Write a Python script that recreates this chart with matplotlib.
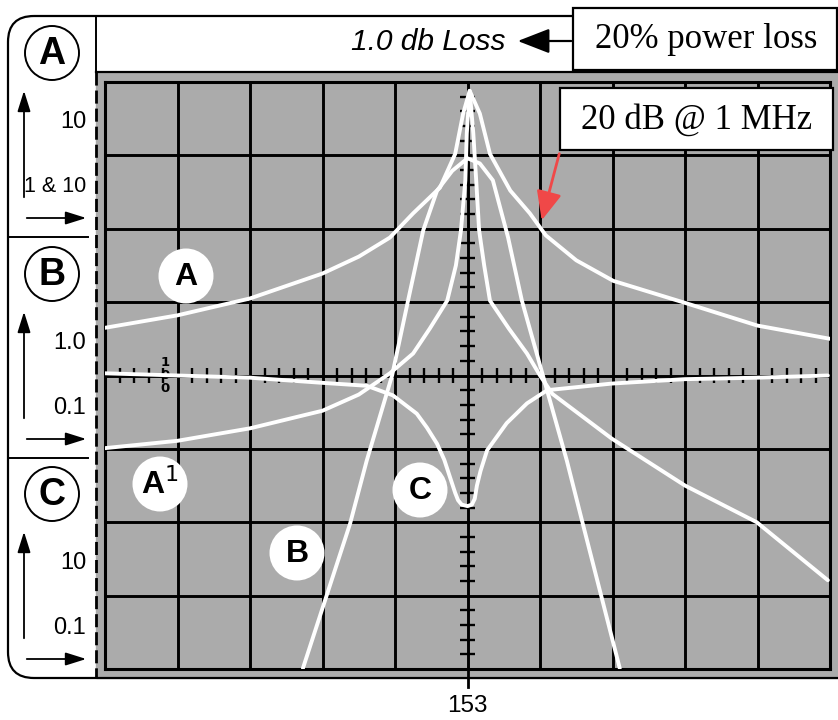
import numpy as np
import matplotlib
matplotlib.use('Agg')
import matplotlib.pyplot as plt
from matplotlib.patches import FancyBboxPatch, Rectangle, Circle

# curve values in screen divisions (x: -5..5, y: -4..4)
a_x = [-5.0, -4.0, -3.0, -2.0, -1.5, -1.07, -0.75, -0.38, -0.17, -0.06, 0.03,
       0.17, 0.31, 0.59, 0.86, 1.08, 1.5, 2.01, 3.0, 4.0, 5.0]
a_y = [0.65, 0.82, 1.05, 1.39, 1.62, 1.88, 2.21, 2.56, 3.02, 3.57, 3.88,
       3.57, 3.02, 2.52, 2.21, 1.91, 1.57, 1.29, 0.99, 0.68, 0.50]

a1_x = [-5.0, -4.0, -3.0, -2.0, -1.5, -1.07, -0.75, -0.52, -0.28, -0.16, -0.09,
        -0.03, -0.01, 0.03, 0.08, 0.12, 0.16, 0.23, 0.31, 0.57, 0.82, 1.0,
        1.17, 1.99, 3.0, 3.99, 4.97]
a1_y = [-0.99, -0.89, -0.72, -0.48, -0.26, 0.03, 0.30, 0.64, 1.02, 1.50, 1.98,
        2.66, 3.3, 3.88, 3.3, 2.66, 1.98, 1.50, 1.02, 0.64, 0.30, 0.0,
        -0.25, -0.86, -1.50, -2.0, -2.79]

b_x = [-2.27, -1.62, -1.39, -1.04, -0.82, -0.61, -0.42, -0.21, 0.0,
       0.17, 0.35, 0.56, 0.75, 1.04, 1.37, 1.59, 2.10]
b_y = [-3.99, -2.02, -1.16, 0.0, 1.02, 1.98, 2.52, 2.79, 2.96,
       2.89, 2.66, 1.88, 1.02, 0.0, -1.16, -2.02, -3.99]

c_x = [-5.0, -4.0, -3.0, -2.0, -1.39, -1.03, -0.70, -0.56, -0.42, -0.32, -0.24,
       -0.17, -0.13, -0.08, 0.0, 0.06, 0.10, 0.13, 0.18, 0.27, 0.54, 0.82,
       1.10, 1.99, 3.0, 3.99, 4.97]
c_y = [0.03, 0.0, -0.03, -0.10, -0.14, -0.27, -0.52, -0.71, -0.93, -1.15, -1.39,
       -1.60, -1.70, -1.76, -1.78, -1.76, -1.68, -1.50, -1.30, -1.02, -0.65, -0.38,
       -0.20, -0.11, -0.05, -0.03, 0.0]

panel_letters = ['A', 'B', 'C']
panel_top = ['10', '1.0', '10']
panel_bottom = ['1 & 10', '0.1', '0.1']

GREY = '#ababab'
W, H = 838, 720
SANS = ['Liberation Sans Narrow', 'Liberation Sans', 'DejaVu Sans']

fig = plt.figure(figsize=(W / 100, H / 100), dpi=100)

# background layer in pixel coords
bg = fig.add_axes([0, 0, 1, 1], zorder=0)
bg.set_xlim(0, W)
bg.set_ylim(H, 0)
bg.axis('off')
bg.add_patch(Rectangle((96, 72), W, 606, color=GREY, zorder=1))
bg.add_patch(FancyBboxPatch((8, 16), 900, 662, boxstyle='round,pad=0,rounding_size=26',
                            fc='none', ec='black', lw=1.6, zorder=3))
bg.plot([96, W], [72, 72], color='black', lw=1.6, zorder=3)
bg.plot([96, 96], [16, 72], color='black', lw=1.4, zorder=3)
bg.plot([96, 96], [72, 678], color='black', lw=2, dashes=(4.7, 1.8), zorder=3)
for ys in [237, 458]:
    bg.plot([8, 88], [ys, ys], color='black', lw=1.4, zorder=3)

# left panels
for i, (let, t1, t2) in enumerate(zip(panel_letters, panel_top, panel_bottom)):
    y0 = [0, 221, 441][i]
    bg.add_patch(Circle((52, 53 + y0), 27, fc='white', ec='black', lw=1.4, zorder=4))
    bg.text(52, 54 + y0, let, ha='center', va='center', fontsize=27,
            family=SANS, weight='bold', zorder=5)
    bg.annotate('', xy=(24, 88 + y0), xytext=(24, 200 + y0),
                arrowprops=dict(arrowstyle='-|>,head_length=0.7,head_width=0.22',
                                color='black', lw=1.3, mutation_scale=18))
    bg.annotate('', xy=(89, 218 + y0), xytext=(24, 218 + y0),
                arrowprops=dict(arrowstyle='-|>,head_length=0.7,head_width=0.22',
                                color='black', lw=1.3, mutation_scale=18))
    bg.text(86, 122 + y0, t1, ha='right', va='center', fontsize=17, family=SANS)
    if t2 == '1 & 10':
        bg.text(86, 187 + y0, t2, ha='right', va='center', fontsize=15.5, family=SANS)
    else:
        bg.text(86, 187 + y0, t2, ha='right', va='center', fontsize=17, family=SANS)

bg.text(505, 42, '1.0 db Loss', ha='right', va='center', fontsize=21.5,
        style='italic', family='Liberation Sans')
bg.annotate('', xy=(515, 41), xytext=(574, 41),
            arrowprops=dict(arrowstyle='-|>,head_length=0.9,head_width=0.35',
                            color='black', lw=1.6, mutation_scale=22))
bg.text(467, 706, '153', ha='center', va='center', fontsize=17.5, family=SANS)

# the screen
ax = fig.add_axes([105 / W, (H - 669) / H, 725 / W, 587 / H], zorder=1)
ax.set_facecolor(GREY)
ax.set_xlim(-5, 5)
ax.set_ylim(-4, 4)
ax.set_xticks([])
ax.set_yticks([])
for s in ax.spines.values():
    s.set_color('black')
    s.set_linewidth(2.2)
for x in range(-4, 5):
    ax.axvline(x, color='black', lw=2.1, zorder=1)
for y in range(-3, 4):
    ax.axhline(y, color='black', lw=2.1, zorder=1)
minor_x = [v for v in np.arange(-4.8, 5.0, 0.2) if abs(v - round(v)) > 0.05]
minor_y = [v for v in np.arange(-3.8, 4.0, 0.2) if abs(v - round(v)) > 0.05]
ax.vlines(minor_x, -0.1, 0.1, color='black', lw=1.7, zorder=1)
ax.hlines(minor_y, -0.1, 0.1, color='black', lw=1.7, zorder=1)
ax.plot([0, 0], [-4, -4.25], color='black', lw=2.0, clip_on=False)
ax.text(-4.17, 0.0, '1\n0\n0', ha='center', va='center', fontsize=9.5,
        weight='bold', linespacing=1.0, zorder=2)

for xs, ys in [(a_x, a_y), (a1_x, a1_y), (b_x, b_y), (c_x, c_y)]:
    ax.plot(xs, ys, color='white', lw=2.8, solid_capstyle='round',
            solid_joinstyle='round', zorder=3)

# overlay for boxes and curve labels
top = fig.add_axes([0, 0, 1, 1], zorder=2)
top.set_xlim(0, W)
top.set_ylim(H, 0)
top.axis('off')
top.patch.set_alpha(0)

top.add_patch(Rectangle((573, 8), 264, 62, fc='white', ec='black', lw=1.6))
top.text(706, 40, '20% power loss', ha='center', va='center', fontsize=25,
         family='Liberation Serif')
top.add_patch(Rectangle((560, 88), 273, 62, fc='white', ec='black', lw=1.6))
top.text(697, 120, '20 dB @ 1 MHz', ha='center', va='center', fontsize=25,
         family='Liberation Serif')
top.annotate('', xy=(541, 223), xytext=(560, 151),
             arrowprops=dict(arrowstyle='-|>,head_length=0.8,head_width=0.35',
                             color='#f04848', lw=2, mutation_scale=22))

for (cx, cy), lab in zip([(186, 276), (160, 484), (297, 553), (420, 490)],
                         ['A', 'A$^{1}$', 'B', 'C']):
    top.add_patch(Circle((cx, cy), 27.5, fc='white', ec='none'))
    top.text(cx, cy + 1, lab, ha='center', va='center', fontsize=23,
             family=SANS, weight='bold')

fig.savefig('out.png', dpi=100)
